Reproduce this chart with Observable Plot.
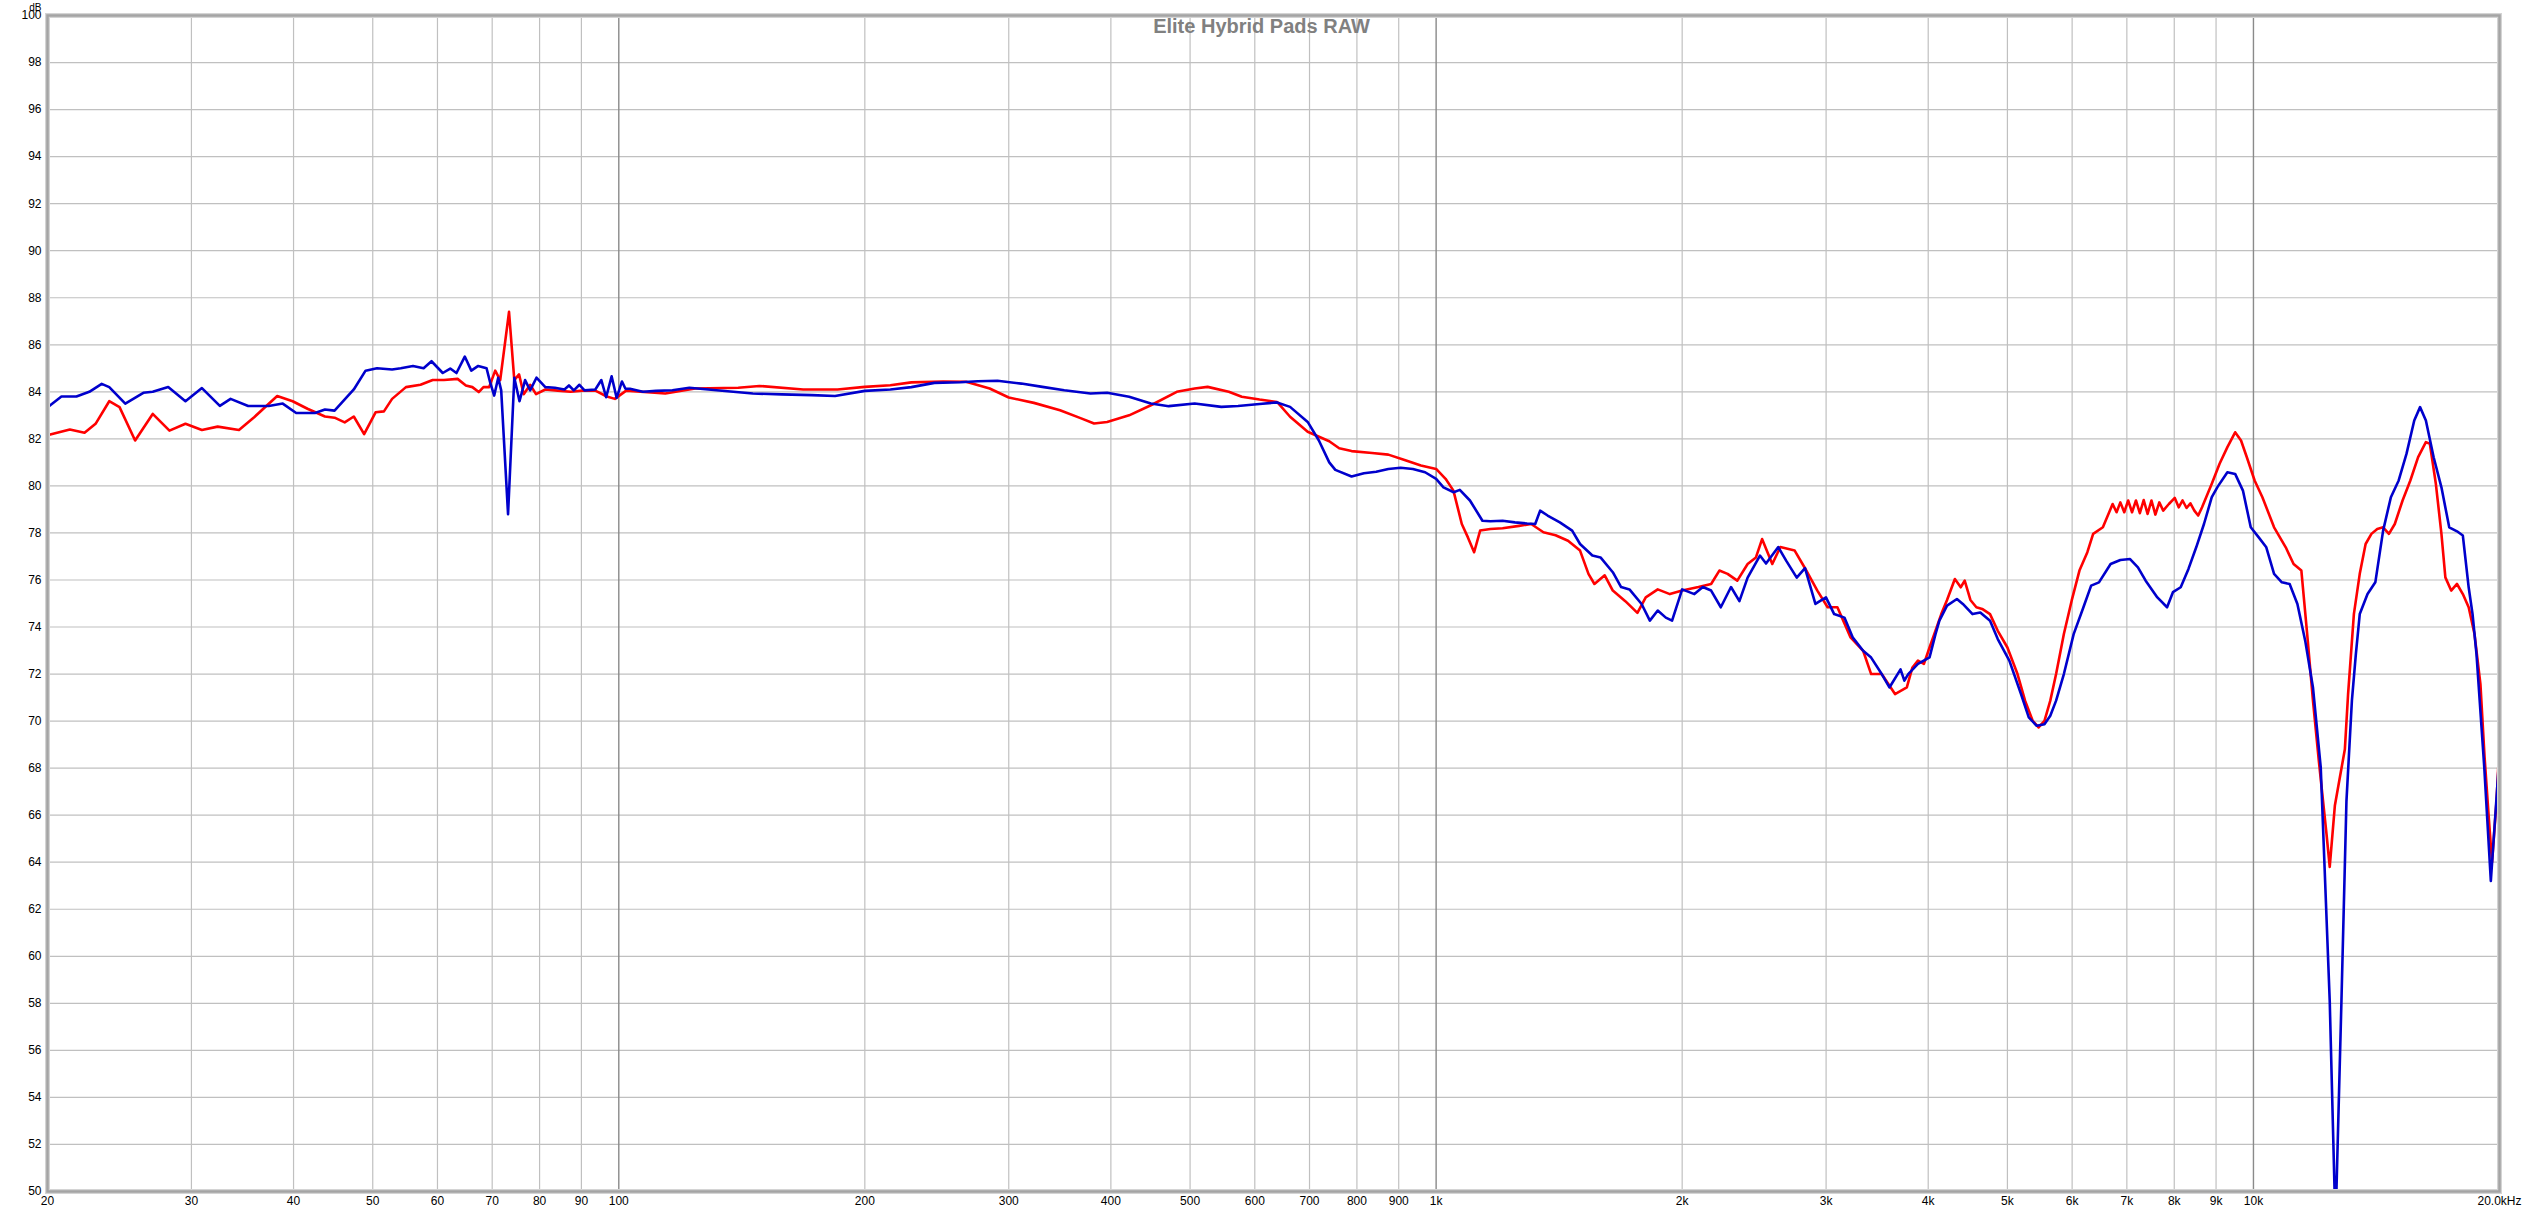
<!DOCTYPE html>
<html>
<head>
<meta charset="utf-8">
<script src="https://cdn.jsdelivr.net/npm/d3@7"></script>
<script src="https://cdn.jsdelivr.net/npm/@observablehq/plot@0.6"></script>
<style>
  html, body { margin: 0; padding: 0; background: #fff; }
  #chart { width: 2522px; height: 1212px; }
</style>
</head>
<body>
<div id="chart"></div>
<script>
const chartTitle = "Elite Hybrid Pads RAW";
const yUnit = "dB";

const yTicks = d3.range(50, 101, 2);
const xTicks = [20,30,40,50,60,70,80,90,100,200,300,400,500,600,700,800,900,1000,2000,3000,4000,5000,6000,7000,8000,9000,10000,20000];
const xTickLabels = ["20","30","40","50","60","70","80","90","100","200","300","400","500","600","700","800","900","1k","2k","3k","4k","5k","6k","7k","8k","9k","10k","20.0kHz"];
const decadeTicks = [100, 1000, 10000];

const redFreq = [20.1,21.3,22.2,22.9,23.8,24.5,25.6,26.9,28.2,29.5,30.9,32.3,34.3,35.8,38.2,39.9,41.6,43.7,44.9,46.2,47.4,48.8,50.4,51.6,52.8,54.9,57.2,59.2,61.1,63.5,65.0,66.2,67.4,68.3,69.4,70.6,71.6,73.4,74.5,75.5,76.5,77.9,79.2,81.3,84.2,87.3,90.3,93.6,96.7,98.9,102.1,114,124,140,148.6,168.1,185.2,200,214.9,228,249.4,266,284.3,300,322,346.6,367.9,381.5,395.8,421.1,447.7,481.6,506.5,525.3,557.6,578.4,608.1,638.8,662.7,696.4,740,761,788,835,874,915,958,1000,1027,1050,1075,1094,1113,1132,1165,1206,1263,1307,1353,1400,1450,1500,1536,1562,1608,1645,1704,1763,1805,1867,1932,2000,2094,2170,2221,2273,2336,2405,2462,2505,2578,2637,2746,2827,2927,3013,3097,3214,3330,3406,3509,3643,3766,3826,3886,3952,4015,4083,4150,4218,4312,4384,4433,4505,4581,4657,4761,4866,5000,5144,5255,5370,5459,5550,5642,5735,5862,5992,6125,6263,6366,6543,6725,6800,6873,6949,7026,7103,7182,7261,7340,7421,7503,7586,7670,7755,7880,8012,8101,8190,8282,8373,8466,8558,8652,8892,9090,9292,9497,9656,9815,10033,10255,10598,10952,11197,11445,11634,11825,12023,12285,12397,12577,12755,12937,13055,13270,13491,13716,13942,14173,14409,14647,14891,15221,15558,15903,16254,16437,16717,16982,17171,17455,17743,18038,18336,18640,18954,19174,19400,19584,19838,20000];
const redDb = [82.17,82.4,82.26,82.64,83.6,83.35,81.93,83.06,82.35,82.64,82.38,82.52,82.38,82.92,83.82,83.6,83.28,82.95,82.9,82.7,82.95,82.2,83.13,83.17,83.7,84.2,84.3,84.5,84.5,84.55,84.27,84.2,83.99,84.2,84.2,84.9,84.5,87.4,84.5,84.74,83.9,84.3,83.9,84.1,84.05,84.0,84.05,84.05,83.8,83.7,84.05,83.93,84.14,84.17,84.25,84.1,84.1,84.21,84.28,84.4,84.44,84.43,84.14,83.76,83.53,83.22,82.87,82.65,82.72,83.0,83.43,84.0,84.14,84.21,84.0,83.79,83.67,83.57,82.94,82.3,81.9,81.6,81.48,81.4,81.33,81.1,80.87,80.72,80.3,79.8,78.38,77.8,77.18,78.1,78.17,78.2,78.3,78.38,78.03,77.9,77.67,77.25,76.26,75.83,76.2,75.55,75.1,74.6,75.26,75.6,75.4,75.55,75.7,75.83,76.4,76.26,75.97,76.68,76.96,77.74,76.68,77.4,77.25,76.5,75.55,74.84,74.84,73.56,72.99,72.0,72.0,71.15,71.43,72.28,72.57,72.43,73.13,73.84,74.55,75.15,76.04,75.69,75.97,75.15,74.84,74.77,74.55,73.84,73.13,72.0,70.87,70.01,69.73,70.01,70.87,72.0,73.7,75.12,76.4,77.18,77.96,78.24,79.23,78.88,79.3,78.88,79.38,78.88,79.38,78.84,79.4,78.81,79.38,78.78,79.3,78.95,79.23,79.49,79.09,79.38,79.06,79.26,78.95,78.74,79.09,80.09,80.94,81.65,82.28,81.93,81.22,80.23,79.52,78.24,77.39,76.68,76.4,73.7,70.87,68.3,65.2,63.8,66.4,67.6,68.8,71.15,74.55,76.26,77.53,77.96,78.17,78.24,77.96,78.38,79.38,80.23,81.22,81.86,81.79,80.09,77.96,76.11,75.55,75.83,75.4,74.84,73.7,71.57,68.5,65.94,64.0,66.65,69.06];

const blueFreq = [20.1,20.8,21.7,22.5,23.3,23.8,24.9,26.2,26.9,28.1,29.5,30.9,32.5,33.5,35.2,37.3,38.8,40.3,42.5,43.7,44.9,47.4,49.0,50.6,52.8,54.1,56.0,57.7,59.0,60.9,62.2,63.3,64.8,66.0,67.3,68.9,69.6,70.4,71.2,71.8,73.2,74.5,75.6,76.8,77.9,79.3,81.3,83.5,85.8,86.9,88.1,89.5,90.8,93.6,95.2,96.5,98.0,99.4,100.9,101.9,103.2,107,111.1,116.3,122,131.7,145.9,158.3,172.3,183.9,200,214.9,228,243.3,261.8,274.9,290.6,310.8,329.8,350.8,377.7,395.8,421.1,447.7,470.8,506.5,546,572.3,608.1,638.8,662.7,696.4,718.7,740,752.8,788,816,844.6,874,904.8,936.5,969.4,1000,1020.9,1050.7,1069,1100,1139.4,1165,1206,1248.6,1292,1322,1340.5,1369,1417,1467,1500,1553,1589,1645,1684,1724,1784,1826,1867,1910,1944,2000,2070,2120,2170,2230,2295,2350,2405,2490,2533,2622,2683,2762,2827,2911,2999,3069,3159,3233,3330,3406,3509,3586,3700,3740,3781,3886,4015,4083,4128,4218,4337,4410,4532,4632,4761,4866,5027,5195,5310,5430,5550,5642,5735,5862,6026,6194,6330,6471,6687,6873,7064,7222,7381,7628,7840,7970,8147,8327,8511,8699,8892,9042,9292,9497,9708,9924,10144,10368,10598,10833,11073,11318,11569,11825,12087,12397,12600,12813,12995,13196,13344,13491,13790,14096,14409,14728,15055,15389,15730,15990,16254,16614,16982,17359,17743,18038,18336,18538,18745,19160,19518,20000];
const blueDb = [83.4,83.8,83.8,84.0,84.34,84.2,83.5,83.96,84.0,84.2,83.6,84.16,83.4,83.7,83.4,83.4,83.5,83.1,83.1,83.25,83.2,84.1,84.9,85.0,84.95,85.0,85.1,85.0,85.3,84.8,84.99,84.8,85.5,84.9,85.1,85.0,84.4,83.84,84.6,84.06,78.8,84.6,83.6,84.5,84.06,84.6,84.2,84.17,84.1,84.27,84.06,84.3,84.06,84.1,84.5,83.77,84.66,83.74,84.44,84.13,84.13,84.0,84.04,84.07,84.17,84.07,83.93,83.89,83.86,83.82,84.04,84.1,84.2,84.38,84.41,84.45,84.47,84.35,84.21,84.07,83.93,83.96,83.79,83.5,83.39,83.5,83.36,83.4,83.48,83.55,83.36,82.72,81.93,81.0,80.68,80.4,80.54,80.6,80.72,80.77,80.72,80.58,80.3,79.94,79.73,79.83,79.38,78.52,78.5,78.52,78.45,78.4,78.38,78.95,78.74,78.45,78.1,77.53,77.04,76.96,76.33,75.7,75.6,74.98,74.27,74.7,74.4,74.27,75.6,75.4,75.7,75.55,74.84,75.7,75.1,76.1,77.04,76.7,77.4,76.8,76.1,76.5,74.98,75.26,74.55,74.4,73.56,72.99,72.7,72.0,71.43,72.2,71.72,72.0,72.43,72.71,73.7,74.27,74.91,75.19,74.98,74.55,74.62,74.27,73.49,72.57,71.15,70.16,69.8,69.87,70.23,70.87,72.0,73.7,74.84,75.76,75.9,76.68,76.85,76.89,76.54,75.97,75.26,74.84,75.48,75.69,76.47,77.39,78.38,79.52,79.97,80.58,80.51,79.8,78.24,77.82,77.39,76.26,75.9,75.83,74.98,73.42,71.43,68.03,58.1,48.5,58.1,66.6,70.87,72.85,74.55,75.4,75.9,78.1,79.52,80.23,81.36,82.78,83.35,82.78,81.22,79.94,78.24,78.07,77.89,75.69,74.55,72.85,68.03,63.2,68.6];

const red = redFreq.map((f, i) => ({f, db: redDb[i]}));
const blue = blueFreq.map((f, i) => ({f, db: blueDb[i]}));
const xLabels = xTicks.map((t, i) => ({t, label: xTickLabels[i]}));
const minorTicks = xTicks.filter(t => !decadeTicks.includes(t));

const chart = Plot.plot({
  width: 2522,
  height: 1212,
  marginLeft: 47,
  marginRight: 23,
  marginTop: 15,
  marginBottom: 21,
  x: {type: "log", domain: [20, 20000], axis: null},
  y: {domain: [50, 100], axis: null},
  style: {fontFamily: "'Liberation Sans', Arial, sans-serif", fontSize: "12px", color: "#000", background: "#fff", overflow: "visible"},
  marks: [
    Plot.ruleY(yTicks, {stroke: "#c0c0c0", strokeWidth: 1.2}),
    Plot.ruleX(minorTicks, {stroke: "#c0c0c0", strokeWidth: 1.2}),
    Plot.ruleX(decadeTicks, {stroke: "#8a8a8a", strokeWidth: 1.4}),
    Plot.line(red, {x: "f", y: "db", stroke: "#ff0000", strokeWidth: 2.6, clip: true}),
    Plot.line(blue, {x: "f", y: "db", stroke: "#0000cc", strokeWidth: 2.6, clip: true}),
    Plot.frame({stroke: "#d4d4d4", strokeWidth: 5}),
    Plot.frame({stroke: "#a4a4a4", strokeWidth: 2.5}),
    Plot.text(xLabels, {x: "t", text: "label", frameAnchor: "bottom", lineAnchor: "top", dy: 5, fontSize: 12, fill: "#000"}),
    Plot.text(yTicks, {y: d => d, text: d => String(d), frameAnchor: "left", textAnchor: "end", dx: -6, fontSize: 12, fill: "#000"}),
    Plot.text([chartTitle], {frameAnchor: "top", text: d => d, dx: -12, dy: 3, lineAnchor: "top", fontSize: 20, fontWeight: "bold", fill: "#808080"}),
    Plot.text([yUnit], {frameAnchor: "top-left", text: d => d, dx: -6, dy: -11.5, textAnchor: "end", fontSize: 10, fill: "#000"})
  ]
});
document.getElementById("chart").appendChild(chart);
</script>
</body>
</html>
